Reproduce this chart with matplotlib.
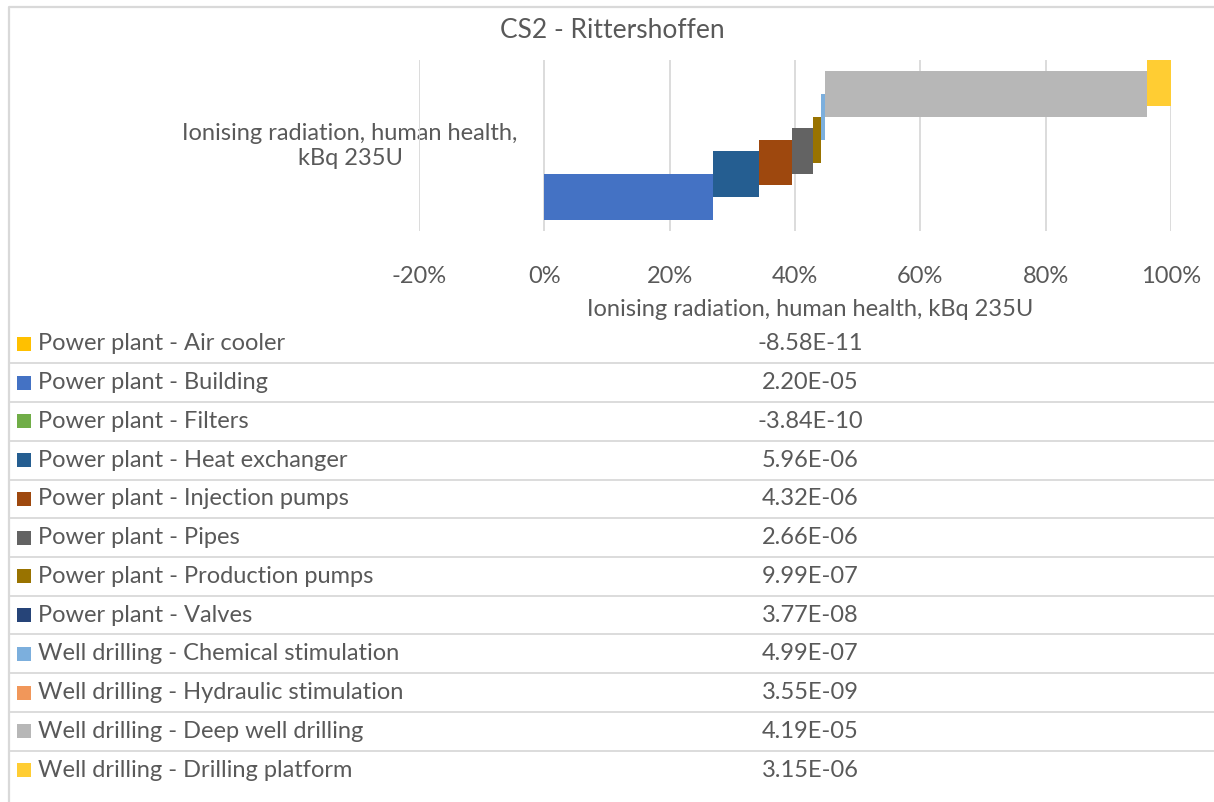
import matplotlib
matplotlib.use("Agg")
import matplotlib.pyplot as plt
from matplotlib.patches import Rectangle
import numpy as np

# datos del grafico (kBq 235U)
title = "CS2 - Rittershoffen"
category = "Ionising radiation, human health, kBq 235U"
labels = [
    "Power plant - Air cooler",
    "Power plant - Building",
    "Power plant - Filters",
    "Power plant - Heat exchanger",
    "Power plant - Injection pumps",
    "Power plant - Pipes",
    "Power plant - Production pumps",
    "Power plant - Valves",
    "Well drilling - Chemical stimulation",
    "Well drilling - Hydraulic stimulation",
    "Well drilling - Deep well drilling",
    "Well drilling - Drilling platform",
]
values = [-8.58e-11, 2.20e-05, -3.84e-10, 5.96e-06, 4.32e-06, 2.66e-06,
          9.99e-07, 3.77e-08, 4.99e-07, 3.55e-09, 4.19e-05, 3.15e-06]
colors = ["#FFC000", "#4472C4", "#70AD47", "#255E91", "#9E480E", "#636363",
          "#997300", "#264478", "#7CAFDD", "#F1975A", "#B7B7B7", "#FFCD33"]
xticks = [-0.2, 0, 0.2, 0.4, 0.6, 0.8, 1.0]

plt.rcParams["font.family"] = ["Lato", "DejaVu Sans"]
txt = "#595959"
grid = "#D9D9D9"
fs = 17

W, H = 1214, 802
fig = plt.figure(figsize=(W / 100, H / 100), dpi=100)

# capa de fondo en pixeles para titulo, tabla y marco
ov = fig.add_axes([0, 0, 1, 1])
ov.set_xlim(0, W)
ov.set_ylim(H, 0)
ov.axis("off")

# eje principal (cascada), transparente para ver la etiqueta debajo
ax = fig.add_axes([419 / W, 1 - 231 / H, (1171 - 419) / W, (231 - 60) / H])
ax.patch.set_alpha(0)
vals = np.array(values)
frac = vals / vals.sum()
starts = np.concatenate([[0], np.cumsum(frac)[:-1]])
ypos = np.arange(len(values))
ax.barh(ypos, frac, left=starts, height=4, color=colors, linewidth=0, zorder=3)
ax.set_xlim(-0.2, 1.0)
ax.set_ylim(-2, 13)
ax.set_xticks(xticks)
ax.set_xticklabels(["%d%%" % round(t * 100) for t in xticks])
ax.set_yticks([])
ax.tick_params(axis="x", length=0, pad=25, labelsize=fs, labelcolor=txt)
ax.grid(axis="x", color=grid, linewidth=1.3, zorder=0)
for s in ax.spines.values():
    s.set_visible(False)

ov.plot([9, 9, W], [H, 7, 7], color=grid, linewidth=1.6)
ov.text(612, 31, title, ha="center", va="center", fontsize=19, color=txt)
ov.text(350, 146, "Ionising radiation, human health,\nkBq 235U", ha="center",
        va="center", fontsize=fs, color=txt, linespacing=1.2)

ov.text(810, 310, category, ha="center", va="center", fontsize=fs, color=txt)
row0, step = 344, 38.73
for i, (lab, v, c) in enumerate(zip(labels, values, colors)):
    y = row0 + i * step
    ov.add_patch(Rectangle((17, y - 7), 14, 14, color=c, linewidth=0))
    ov.text(38, y, lab, ha="left", va="center", fontsize=fs, color=txt)
    ov.text(810, y, "%.2E" % v, ha="center", va="center", fontsize=fs, color=txt)
    if i < len(labels) - 1:
        ov.plot([9, W], [y + step / 2, y + step / 2], color=grid, linewidth=1.3)

fig.savefig("out.png", dpi=100)
